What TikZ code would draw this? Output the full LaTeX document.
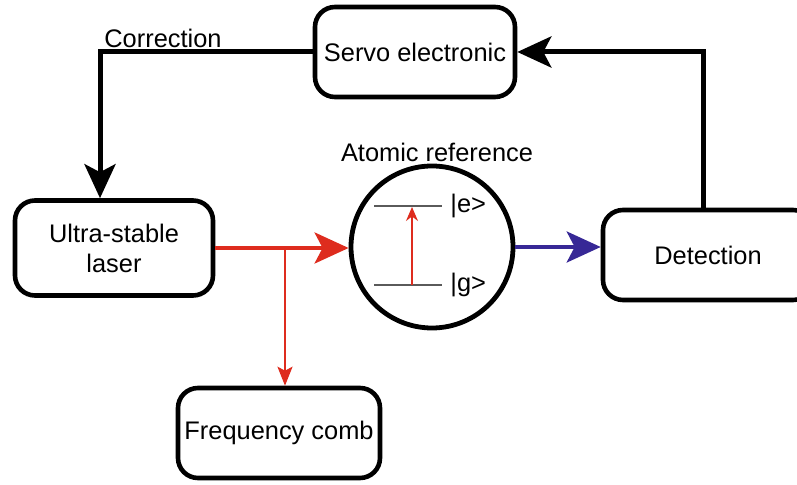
\documentclass[tikz,border=0pt]{standalone}
\usepackage{fontspec}
\setmainfont{Liberation Sans}
\usetikzlibrary{arrows.meta}
\definecolor{laserred}{RGB}{222,44,30}
\definecolor{probeblue}{RGB}{55,40,150}
\definecolor{linegray}{RGB}{90,90,90}
\tikzset{
	block/.style={draw, line width=2.3pt, rounded corners=10pt, align=center, inner sep=0pt, minimum height=45pt},
	bigtip/.style={-{Stealth[length=17pt,width=15.5pt,inset=4pt]}},
	loop/.style={line width=2.5pt, bigtip},
	beam/.style={line width=2pt, bigtip},
}

\begin{document}
\begin{tikzpicture}[x=0.5pt, y=-0.5pt, font=\fontsize{12.7}{15}\selectfont]
	\useasboundingbox (0,0) rectangle (797,485);
	% blocks
	\node[block, minimum width=100pt] (servo) at (415,52) {Servo electronic};
	\node[block, minimum width=99pt, minimum height=47.5pt] (laser) at (114,248) {Ultra-stable\\laser};
	\node[block, minimum width=101pt] (comb) at (279,433) {Frequency comb};
	\node[block, minimum width=105pt] (detect) at (708,255) {Detection};
	% atomic reference
	\node[draw, circle, line width=2.4pt, minimum size=81pt, inner sep=0pt] (atom) at (432,247) {};
	\node (atomlabel) at (437,152) {Atomic reference};
	\coordinate (eleft) at (374,206);
	\coordinate (eright) at (442,206);
	\coordinate (gleft) at (374,285);
	\coordinate (gright) at (442,285);
	\draw[linegray, line width=0.75pt] (eleft) -- (eright);
	\draw[linegray, line width=0.75pt] (gleft) -- (gright);
	\node[right, inner sep=1pt] (elabel) at (448,206) {|e>};
	\node[right, inner sep=1pt] (glabel) at (448,285) {|g>};
	\draw[laserred, line width=0.7pt, -{Stealth[length=7pt,width=6pt]}] (412,285) -- (412,207);
	% laser beams
	\coordinate (split) at (285,248);
	\draw[beam, laserred] (laser.east) -- (laser.east -| atom.west);
	\draw[laserred, line width=1pt, -{Stealth[length=9.5pt,width=7.5pt,inset=2pt]}] (split) -- (split |- comb.north);
	\draw[beam, probeblue] (atom.east) -- (atom.east -| detect.west);
	% feedback loop
	\coordinate (fbtop) at (703,52);
	\draw[loop] (fbtop |- detect.north) -- (fbtop) -- (servo.east);
	\coordinate (corr) at (100,52);
	\draw[loop] (servo.west) -- (corr) -- (corr |- laser.north);
	\node[above right, inner sep=2pt] (corrlabel) at (corr) {Correction};
\end{tikzpicture}
\end{document}
